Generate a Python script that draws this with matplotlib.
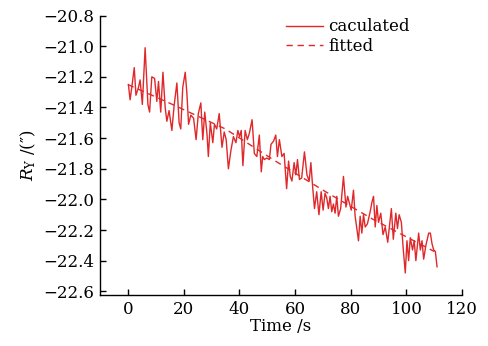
import matplotlib
matplotlib.use("Agg")
import matplotlib.pyplot as plt

plt.rcParams['font.family'] = ['DejaVu Serif']
plt.rcParams['mathtext.fontset'] = 'dejavuserif'

# caculated series (time in s, value in arcsec)
time_calc = [0.2, 0.8, 1.4, 2.3, 2.9, 3.8, 4.4, 5.2, 6.2, 7.2, 7.8, 8.6, 9.6, 10.4, 11.0,
             11.8, 12.6, 13.4, 14.0, 14.8, 15.8, 16.6, 17.6, 18.4, 19.0, 19.7, 20.6, 21.2,
             21.8, 22.6, 23.6, 24.5, 25.3, 26.2, 26.9, 27.6, 28.4, 28.9, 29.6, 30.5, 31.1,
             31.9, 32.8, 33.8, 34.6, 35.3, 36.1, 37.0, 37.9, 38.8, 39.5, 40.1, 40.7, 41.3,
             42.1, 42.9, 43.6, 44.6, 45.4, 46.3, 47.2, 47.9, 48.4, 49.0, 49.9, 50.8, 51.4,
             52.3, 53.1, 53.7, 54.4, 55.3, 56.1, 57.0, 57.7, 58.3, 58.9, 59.7, 60.3, 60.9,
             61.6, 62.4, 63.4, 64.3, 65.1, 65.7, 66.4, 67.0, 67.8, 68.6, 69.4, 70.1, 70.8,
             71.4, 72.0, 72.6, 73.2, 73.8, 74.4, 75.0, 75.6, 76.4, 77.4, 78.3, 78.9, 79.6,
             80.2, 81.0, 81.6, 82.2, 82.8, 83.4, 84.0, 84.6, 85.2, 86.0, 87.0, 87.6, 88.2,
             88.8, 89.4, 90.0, 90.8, 91.6, 92.4, 93.3, 94.0, 94.6, 95.3, 96.2, 96.8, 97.4,
             98.2, 98.8, 99.6, 100.2, 100.8, 101.4, 102.2, 102.8, 103.4, 104.4, 105.0, 105.6,
             106.2, 107.0, 108.0, 108.6, 109.2, 109.8, 110.4, 111.0]
value_calc = [-21.25, -21.35, -21.27, -21.14, -21.32, -21.27, -21.22, -21.38, -21.01, -21.38,
              -21.43, -21.20, -21.21, -21.36, -21.23, -21.43, -21.17, -21.40, -21.49, -21.42,
              -21.55, -21.39, -21.24, -21.50, -21.54, -21.27, -21.17, -21.31, -21.51, -21.45,
              -21.47, -21.61, -21.44, -21.37, -21.61, -21.43, -21.57, -21.72, -21.50, -21.63,
              -21.51, -21.54, -21.44, -21.66, -21.56, -21.61, -21.80, -21.68, -21.59, -21.63,
              -21.55, -21.59, -21.55, -21.78, -21.55, -21.61, -21.57, -21.48, -21.70, -21.72,
              -21.58, -21.82, -21.72, -21.74, -21.73, -21.74, -21.64, -21.62, -21.58, -21.72,
              -21.61, -21.72, -21.70, -21.93, -21.75, -21.85, -21.88, -21.76, -21.84, -21.74,
              -21.87, -21.86, -21.69, -21.84, -21.88, -21.76, -21.93, -22.06, -21.95, -22.10,
              -21.95, -22.07, -21.96, -21.99, -22.06, -21.98, -22.08, -22.03, -22.09,
              -21.98, -22.11, -22.06, -21.85, -22.05, -21.98, -22.03, -22.07, -21.94, -22.11,
              -22.19, -22.27, -22.11, -22.22, -22.10, -22.18, -22.16, -22.08, -22.02, -21.98,
              -22.18, -22.04, -22.15, -22.09, -22.23, -22.18, -22.28, -22.16, -22.06, -22.26,
              -22.09, -22.19, -22.10, -22.15, -22.31, -22.48, -22.27, -22.40, -22.25, -22.33,
              -22.27, -22.40, -22.22, -22.33, -22.27, -22.39, -22.30, -22.22, -22.22, -22.29,
              -22.33, -22.34, -22.44]

# fitted curve
time_fit = [0, 16, 35, 53, 71, 88, 110]
value_fit = [-21.25, -21.38, -21.54, -21.75, -21.95, -22.13, -22.34]

xticks = [0, 20, 40, 60, 80, 100, 120]
yticks = [-20.8, -21.0, -21.2, -21.4, -21.6, -21.8, -22.0, -22.2, -22.4, -22.6]

red = '#E0282A'
fs = 12

fig = plt.figure(figsize=(4.89, 3.46), dpi=100)
ax = fig.add_axes([0.2045, 0.147, 0.7405, 0.808])

ax.plot(time_calc, value_calc, color=red, lw=1.0, label='caculated')
ax.plot(time_fit, value_fit, color=red, lw=1.0, ls=(0, (4.5, 3.5)), label='fitted')

ax.set_xlim(-10, 120)
ax.set_ylim(-22.625, -20.8)
ax.set_xticks(xticks)
ax.set_yticks(yticks)
ax.set_yticklabels([f'\u2212{abs(v):.1f}' for v in yticks])
ax.tick_params(direction='in', length=4, width=1, labelsize=fs, pad=4)
for s in ['top', 'right']:
    ax.spines[s].set_visible(False)
for s in ['left', 'bottom']:
    ax.spines[s].set_linewidth(1)

ax.set_xlabel('Time /s', fontsize=fs, labelpad=0)
ax.set_ylabel(r'$R_{\mathrm{Y}}$ /(″)', fontsize=fs, labelpad=4)

leg = ax.legend(loc='upper left', bbox_to_anchor=(0.515, 0.99), frameon=False,
                fontsize=fs, handlelength=2.2, handletextpad=0.3,
                labelspacing=0.15, borderpad=0, borderaxespad=0)

fig.savefig('out.png', dpi=100)
